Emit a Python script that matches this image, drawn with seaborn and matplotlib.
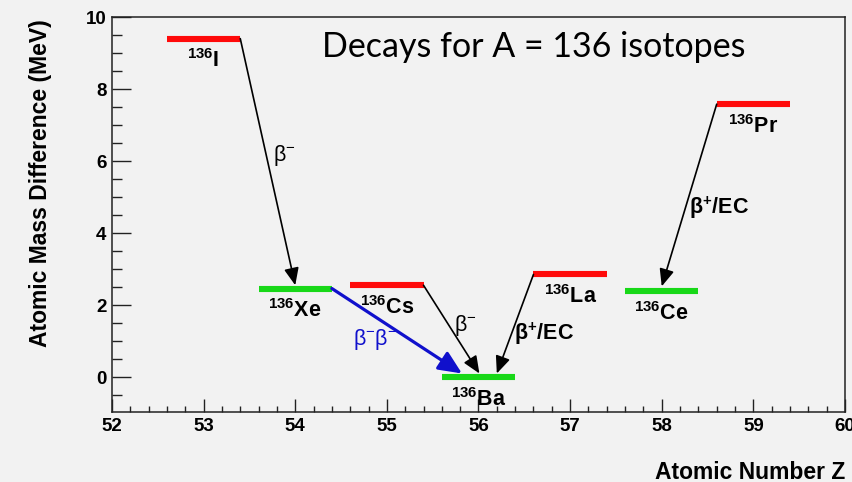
import matplotlib
matplotlib.use("Agg")
import matplotlib.pyplot as plt
from matplotlib.ticker import MultipleLocator
import numpy as np
import pandas as pd
import seaborn as sns

# Energy levels of the A = 136 isobars
elements = ["I", "Xe", "Cs", "Ba", "La", "Ce", "Pr"]
atomic_number = [53, 54, 55, 56, 57, 58, 59]
mass_diff = [9.40, 2.46, 2.55, 0.00, 2.85, 2.38, 7.58]
stable = [False, True, False, True, False, True, False]

# Decay transitions: (from Z, from E) -> (to Z, to E)
decay_from_z = [53.4, 54.4, 55.4, 56.6, 58.6]
decay_from_e = [9.40, 2.46, 2.55, 2.85, 7.58]
decay_to_z = [54.0, 55.82, 56.01, 56.20, 58.0]
decay_to_e = [2.55, 0.10, 0.10, 0.10, 2.52]
decay_kind = ["single", "double", "single", "single", "single"]

# Decay mode labels and their positions
mode_text = [r"β$^{\mathregular{-}}$", r"β$^{\mathregular{-}}$β$^{\mathregular{-}}$",
             r"β$^{\mathregular{-}}$", r"β$^{\mathregular{+}}$/EC", r"β$^{\mathregular{+}}$/EC"]
mode_x = [53.88, 54.87, 55.86, 56.71, 58.62]
mode_y = [6.15, 1.05, 1.43, 1.21, 4.71]
mode_color = ["black", "#1010cc", "black", "black", "black"]
mode_bold = [False, False, False, True, True]

title_text = "Decays for A = 136 isotopes"

bg = "#f2f2f2"
sns.set_theme(style="ticks")
plt.rcParams["font.family"] = ["Liberation Sans", "DejaVu Sans"]
plt.rcParams["mathtext.fontset"] = "custom"
plt.rcParams["mathtext.rm"] = "Liberation Sans"
plt.rcParams["mathtext.bf"] = "Liberation Sans:bold"
plt.rcParams["text.color"] = "black"
plt.rcParams["axes.labelcolor"] = "black"
plt.rcParams["xtick.color"] = "black"
plt.rcParams["ytick.color"] = "black"

fig = plt.figure(figsize=(8.53, 4.82), dpi=100, facecolor=bg)
ax = fig.add_axes([0.1313, 0.1452, 0.8593, 0.8195])
ax.set_facecolor(bg)

# Horizontal level bars, one line per isotope
half = 0.4
rows = []
for el, z, e, s in zip(elements, atomic_number, mass_diff, stable):
    kind = "stable" if s else "unstable"
    rows.append({"iso": el, "Z": z - half, "E": e, "kind": kind})
    rows.append({"iso": el, "Z": z + half, "E": e, "kind": kind})
levels = pd.DataFrame(rows)
sns.lineplot(data=levels, x="Z", y="E", units="iso", hue="kind",
             palette={"stable": "#18d818", "unstable": "#ff0a0a"},
             estimator=None, lw=4.4, legend=False, ax=ax,
             solid_capstyle="butt", zorder=3)

# Isotope labels under each level
for el, z, e in zip(elements, atomic_number, mass_diff):
    ax.text(z, e - 0.80, r"$\mathbf{^{136}" + el + "}$", ha="center",
            va="baseline", fontsize=15.5, color="black", zorder=5)

# Decay arrows
for fz, fe, tz, te, kind in zip(decay_from_z, decay_from_e, decay_to_z,
                                decay_to_e, decay_kind):
    if kind == "double":
        props = dict(arrowstyle="-|>,head_length=1.0,head_width=0.45",
                     mutation_scale=14, lw=2.3, color="#1010cc",
                     shrinkA=0, shrinkB=0)
    else:
        props = dict(arrowstyle="-|>,head_length=0.75,head_width=0.32",
                     mutation_scale=14, lw=1.2, color="black",
                     shrinkA=0, shrinkB=0)
    ax.annotate("", xy=(tz, te), xytext=(fz, fe), arrowprops=props, zorder=4)

# Decay mode labels
for t, x, y, c, b in zip(mode_text, mode_x, mode_y, mode_color, mode_bold):
    ax.text(x, y, t, ha="center", va="center", fontsize=15.5, color=c,
            fontweight="bold" if b else "normal", zorder=5)

ax.text(56.6, 8.88, title_text, ha="center", va="baseline", fontsize=24.5,
        family=["Lato", "DejaVu Sans"], color="black")

ax.set_xlim(52, 60)
ax.set_ylim(-0.97, 10)
ax.xaxis.set_major_locator(MultipleLocator(1))
ax.xaxis.set_minor_locator(MultipleLocator(0.2))
ax.yaxis.set_major_locator(MultipleLocator(2))
ax.yaxis.set_minor_locator(MultipleLocator(0.5))

for sp in ax.spines.values():
    sp.set_visible(True)
    sp.set_linewidth(1.1)
    sp.set_color("#222222")

ax.tick_params(axis="x", which="major", direction="in", length=9.4, width=1.0,
               color="#222222", pad=4, labelsize=13.5)
ax.tick_params(axis="x", which="minor", direction="in", length=4.3, width=1.0,
               color="#222222")
ax.tick_params(axis="y", which="major", direction="in", length=13.5, width=1.0,
               color="#222222", pad=4, labelsize=13.5)
ax.tick_params(axis="y", which="minor", direction="in", length=7, width=1.0,
               color="#222222")
for lab in ax.get_xticklabels() + ax.get_yticklabels():
    lab.set_fontweight("bold")

ax.set_xlabel("Atomic Number Z", fontsize=16.5, fontweight="bold", ha="right",
              va="center")
ax.xaxis.set_label_coords(1.0, -0.152)
ax.set_ylabel("Atomic Mass Difference (MeV)", fontsize=16.5, fontweight="bold",
              va="center")
ax.yaxis.set_label_coords(-0.098, 0.58)

fig.savefig("out.png", dpi=100, facecolor=bg)
